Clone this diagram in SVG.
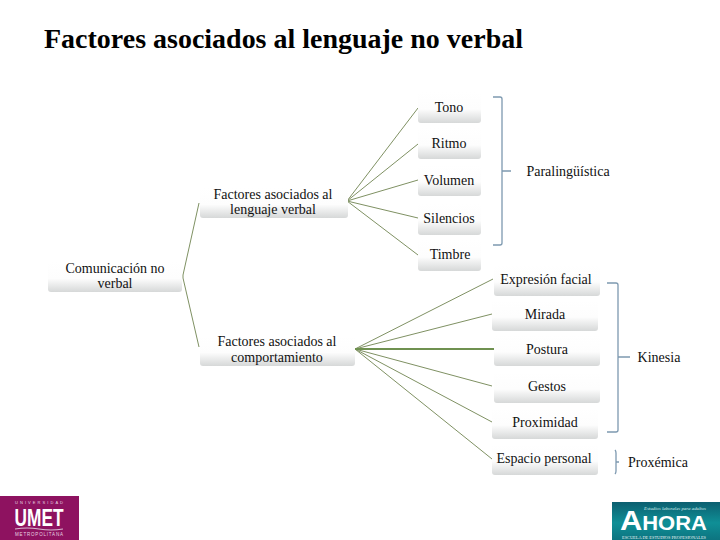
<svg xmlns="http://www.w3.org/2000/svg" width="720" height="540" viewBox="0 0 720 540">
<style>
text{font-family:"Liberation Serif","Times New Roman",serif;fill:#111}
.n{font-size:14px;text-anchor:middle}
.b{fill:url(#g)}
.c{fill:none;stroke:#7f9163;stroke-width:1}
.k{fill:none;stroke:#7d99b0;stroke-width:1.3}
</style>
<defs>
<linearGradient id="g" x1="0" y1="0" x2="0" y2="1"><stop offset="0" stop-color="#fff"/><stop offset=".55" stop-color="#fdfdfd"/><stop offset="1" stop-color="#d6d8d8"/></linearGradient>
<linearGradient id="t" x1="0" y1="0" x2="0" y2="1"><stop offset="0" stop-color="#0c5f70"/><stop offset=".55" stop-color="#0f8f96"/><stop offset="1" stop-color="#0d7480"/></linearGradient>
</defs>
<rect width="720" height="540" fill="#fff"/>
<text x="44" y="47.5" font-size="26.5" font-weight="700" textLength="479" lengthAdjust="spacingAndGlyphs" style="fill:#000">Factores asociados al lenguaje no verbal</text>
<g id="connectors">
<path class="c" d="M199 203L183 275V278L199 347"/>
<path class="c" d="M347 201L418 108M347 201L418 144M347 201L418 180M347 201L418 218M347 201L418 255"/>
<path class="c" d="M355 349L493 279M355 349L492 314M355 349L492 386M355 349L492 422M355 349L492 459"/>
<path class="c" style="stroke-width:2;stroke:#6f9150" d="M355 349H494"/>
<path class="k" d="M493 97H500Q502 97 502 99V243Q502 245 500 245H493M502 171H511"/>
<path class="k" d="M607 283H616Q618 283 618 285V430Q618 432 616 432H607M618 357H630"/>
<path class="k" d="M615 450Q616 451 616 453V471Q616 473 615 474M616 462H619"/>
</g>
<g id="n1"><rect class="b" x="48" y="262" width="134" height="30" rx="3"/><text class="n" x="115" y="273">Comunicación no</text><text class="n" x="115" y="288">verbal</text></g>
<g id="n2"><rect class="b" x="200" y="188" width="148" height="30" rx="3"/><text class="n" x="273" y="199">Factores asociados al</text><text class="n" x="273" y="214">lenguaje verbal</text></g>
<g id="n3"><rect class="b" x="200" y="336" width="155" height="30" rx="3"/><text class="n" x="277" y="346">Factores asociados al</text><text class="n" x="277" y="362">comportamiento</text></g>
<g id="n4"><rect class="b" x="418" y="92" width="63" height="31" rx="3"/><text class="n" x="449" y="112">Tono</text></g>
<g id="n5"><rect class="b" x="418" y="128" width="63" height="31" rx="3"/><text class="n" x="449" y="148">Ritmo</text></g>
<g id="n6"><rect class="b" x="418" y="165" width="63" height="31" rx="3"/><text class="n" x="449" y="185">Volumen</text></g>
<g id="n7"><rect class="b" x="418" y="203" width="63" height="32" rx="3"/><text class="n" x="449" y="223">Silencios</text></g>
<g id="n8"><rect class="b" x="418" y="240" width="63" height="31" rx="3"/><text class="n" x="450" y="259">Timbre</text></g>
<g id="n9"><rect class="b" x="494" y="265" width="106" height="31" rx="3"/><text class="n" x="546" y="284">Expresión facial</text></g>
<g id="n10"><rect class="b" x="492" y="300" width="106" height="31" rx="3"/><text class="n" x="545" y="319">Mirada</text></g>
<g id="n11"><rect class="b" x="494" y="335" width="106" height="31" rx="3"/><text class="n" x="547" y="354">Postura</text></g>
<g id="n12"><rect class="b" x="494" y="372" width="106" height="31" rx="3"/><text class="n" x="547" y="391">Gestos</text></g>
<g id="n13"><rect class="b" x="492" y="408" width="106" height="31" rx="3"/><text class="n" x="545" y="427">Proximidad</text></g>
<g id="n14"><rect class="b" x="492" y="444" width="106" height="31" rx="3"/><text class="n" x="544" y="463">Espacio personal</text></g>
<g id="n15"><text class="n" x="568" y="176">Paralingüística</text></g>
<g id="n16"><text class="n" x="659" y="362">Kinesia</text></g>
<g id="n17"><text class="n" x="658" y="467">Proxémica</text></g>
<g id="logo-umet">
<rect x="0" y="496" width="79" height="44" fill="#8e1260"/>
<text x="39" y="503.5" font-size="4" text-anchor="middle" textLength="48" style="fill:#e8d5e2;font-family:'Liberation Sans',sans-serif">UNIVERSIDAD</text>
<text x="39" y="526" font-size="23" text-anchor="middle" textLength="49" lengthAdjust="spacingAndGlyphs" style="fill:#fff;font-family:'Liberation Sans',sans-serif;font-weight:700">UMET</text>
<path d="M15 529Q27 527 39 529T63 529" fill="none" stroke="#d9b8cf" stroke-width="1.2"/>
<text x="39" y="535.5" font-size="4.5" text-anchor="middle" textLength="48" style="fill:#e8d5e2;font-family:'Liberation Sans',sans-serif">METROPOLITANA</text>
</g>
<g id="logo-ahora">
<rect x="612" y="502" width="108" height="38" fill="url(#t)"/>
<text x="644" y="510" font-size="5" textLength="62" lengthAdjust="spacingAndGlyphs" style="fill:#d8eeee;font-style:italic">Estudios laborales para adultos</text>
<text x="620" y="530" font-size="20" textLength="87" lengthAdjust="spacingAndGlyphs" style="fill:#fff;font-family:'Liberation Sans',sans-serif;font-weight:700"><tspan font-size="28">A</tspan>HORA</text>
<text x="622" y="538.5" font-size="4.5" textLength="84" lengthAdjust="spacingAndGlyphs" style="fill:#e8f4f4">ESCUELA DE ESTUDIOS PROFESIONALES</text>
</g>
</svg>
